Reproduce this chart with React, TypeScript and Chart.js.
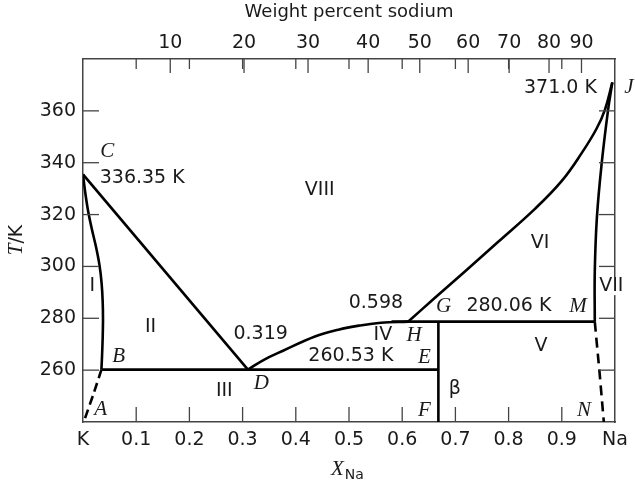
import React, { useEffect, useRef } from "react";
import { Chart, registerables } from "chart.js";

Chart.register(...registerables);

// ---------- axis data ----------
const moleFractionTicks = [0, 0.1, 0.2, 0.3, 0.4, 0.5, 0.6, 0.7, 0.8, 0.9, 1];
const moleFractionLabels = ["K", "0.1", "0.2", "0.3", "0.4", "0.5", "0.6", "0.7", "0.8", "0.9", "Na"];
const temperatureTicks = [260, 280, 300, 320, 340, 360];
const weightPercentTicks = [10, 20, 30, 40, 50, 60, 70, 80, 90];
// mole-fraction position of each weight-percent tick
const weightPercentAt = [0.164, 0.3027, 0.423, 0.536, 0.633, 0.724, 0.801, 0.876, 0.937];

// ---------- phase boundary data (x = X_Na, T in K) ----------
const liquidusCD_x = [0, 0.31];
const liquidusCD_T = [335.5, 260.2];

const liquidusDH_x = [0.31, 0.34, 0.376, 0.436, 0.48, 0.52, 0.56, 0.611];
const liquidusDH_T = [260.2, 264.0, 267.5, 273.0, 275.6, 277.2, 278.3, 278.7];

const liquidusHJ_x = [0.611, 0.66, 0.72, 0.78, 0.85, 0.9, 0.937, 0.965, 0.981, 0.995];
const liquidusHJ_T = [278.7, 287.6, 298.4, 309.4, 322.3, 333, 343.6, 353, 360.4, 371.0];

const solidusCB_x = [0, 0.0042, 0.0095, 0.0165, 0.0245, 0.031, 0.035, 0.037, 0.0376, 0.037, 0.0358, 0.0346];
const solidusCB_T = [335.5, 328.5, 321.5, 314.5, 307.5, 300.5, 293.5, 286.5, 279.5, 272.5, 265.5, 260.2];

const dashedBA_x = [0.0346, 0.02, 0.003];
const dashedBA_T = [260.2, 251, 241];

const solidusJM_x = [0.995, 0.987, 0.975, 0.966, 0.962, 0.962];
const solidusJM_T = [371.0, 360.4, 339.8, 319, 298, 278.7];

const dashedMN_x = [0.962, 0.971, 0.979];
const dashedMN_T = [278.7, 259, 240];

const eutecticBE_x = [0.0346, 0.668];
const eutecticBE_T = [260.2, 260.2];

const peritecticHM_x = [0.58, 0.962];
const peritecticHM_T = [278.7, 278.7];

const compoundEF_x = [0.668, 0.668];
const compoundEF_T = [278.7, 240];

// ---------- annotations ----------
type Annot = { text: string; x: number; t: number; italic?: boolean; align?: CanvasTextAlign; bg?: boolean };
const annotations: Annot[] = [
  { text: "C", x: 0.0455, t: 344.3, italic: true },
  { text: "336.35 K", x: 0.0314, t: 333.9, align: "left" },
  { text: "VIII", x: 0.445, t: 329.4 },
  { text: "371.0 K", x: 0.966, t: 368.9, align: "right" },
  { text: "J", x: 1.026, t: 368.9, italic: true },
  { text: "VI", x: 0.859, t: 309.1 },
  { text: "I", x: 0.0173, t: 292.4 },
  { text: "II", x: 0.127, t: 276.6 },
  { text: "VII", x: 0.993, t: 292.4, bg: true },
  { text: "0.598", x: 0.5505, t: 285.7 },
  { text: "G", x: 0.678, t: 284.7, italic: true },
  { text: "280.06 K", x: 0.8006, t: 284.9 },
  { text: "M", x: 0.9304, t: 284.7, italic: true },
  { text: "0.319", x: 0.334, t: 273.9 },
  { text: "IV", x: 0.5637, t: 273.5 },
  { text: "H", x: 0.6223, t: 273.5, italic: true },
  { text: "B", x: 0.0671, t: 265.3, italic: true },
  { text: "260.53 K", x: 0.5035, t: 265.3 },
  { text: "E", x: 0.6417, t: 265.0, italic: true },
  { text: "V", x: 0.861, t: 269.4 },
  { text: "III", x: 0.2656, t: 252.0 },
  { text: "D", x: 0.335, t: 254.9, italic: true },
  { text: "β", x: 0.699, t: 252.8 },
  { text: "A", x: 0.0333, t: 244.8, italic: true },
  { text: "F", x: 0.6417, t: 244.4, italic: true },
  { text: "N", x: 0.9417, t: 244.4, italic: true },
];

const SANS = '"DejaVu Sans"';
const SERIF = '"Liberation Serif"';
const FRAME = "#444";
const TEXT = "#1a1a1a";

const zip = (xs: number[], ts: number[]) => xs.map((x, i) => ({ x, y: ts[i] }));

const line = (xs: number[], ts: number[], opts: any = {}) => ({
  data: zip(xs, ts),
  showLine: true,
  borderColor: "#000",
  borderWidth: 2.6,
  pointRadius: 0,
  tension: 0,
  fill: false,
  ...opts,
});

const inwardTicks = {
  id: "inwardTicks",
  afterDraw(chart: any) {
    const { ctx, chartArea: a, scales } = chart;
    ctx.save();
    ctx.strokeStyle = FRAME;
    ctx.lineWidth = 1.3;
    const seg = (x1: number, y1: number, x2: number, y2: number) => {
      ctx.beginPath();
      ctx.moveTo(x1, y1);
      ctx.lineTo(x2, y2);
      ctx.stroke();
    };
    moleFractionTicks.slice(1, -1).forEach((v) => {
      const x = scales.x.getPixelForValue(v);
      seg(x, a.bottom, x, a.bottom - 15);
      seg(x, a.top, x, a.top + 10);
    });
    weightPercentAt.forEach((m) => {
      const x = scales.xTop.getPixelForValue(m);
      seg(x, a.top, x, a.top + 14);
    });
    temperatureTicks.forEach((t) => {
      const y = scales.y.getPixelForValue(t);
      seg(a.left, y, a.left + 16, y);
      seg(a.right, y, a.right - 16, y);
    });
    ctx.restore();
  },
};

const textPlugin = {
  id: "textPlugin",
  afterDraw(chart: any) {
    const { ctx, scales, chartArea: a } = chart;
    ctx.save();
    ctx.fillStyle = TEXT;
    ctx.textBaseline = "middle";
    for (const an of annotations) {
      const px = scales.x.getPixelForValue(an.x);
      const py = scales.y.getPixelForValue(an.t);
      ctx.font = an.italic ? `italic 21px ${SERIF}` : `19px ${SANS}`;
      ctx.textAlign = an.align || "center";
      if (an.bg) {
        const w = ctx.measureText(an.text).width;
        ctx.fillStyle = "#fff";
        ctx.fillRect(px - w / 2 - 1, py - 9, w + 2, 18);
        ctx.fillStyle = TEXT;
      }
      ctx.fillText(an.text, px, py);
    }
    // top title
    ctx.font = `18px ${SANS}`;
    ctx.textAlign = "center";
    ctx.fillText("Weight percent sodium", (a.left + a.right) / 2, 12);
    // x title: X_Na
    ctx.textAlign = "left";
    ctx.textBaseline = "alphabetic";
    ctx.font = `italic 21px ${SERIF}`;
    const xX = 331;
    ctx.fillText("X", xX, 475);
    const wX = ctx.measureText("X").width;
    ctx.font = `14px ${SANS}`;
    ctx.fillText("Na", xX + wX + 1, 479);
    // y title: T/K rotated
    ctx.save();
    ctx.translate(22, 240);
    ctx.rotate(-Math.PI / 2);
    ctx.font = `italic 21px ${SERIF}`;
    const wT = ctx.measureText("T").width;
    ctx.font = `19px ${SANS}`;
    const wK = ctx.measureText("/K").width;
    const start = -(wT + wK) / 2;
    ctx.font = `italic 21px ${SERIF}`;
    ctx.fillText("T", start, 0);
    ctx.font = `19px ${SANS}`;
    ctx.fillText("/K", start + wT, 0);
    ctx.restore();
    ctx.restore();
  },
};

export default function App() {
  const ref = useRef<HTMLCanvasElement | null>(null);
  useEffect(() => {
    if (!ref.current) return;
    const tickFont = { family: SANS, size: 19 };
    const chart = new Chart(ref.current, {
      type: "scatter",
      data: {
        datasets: [
          line(liquidusCD_x, liquidusCD_T),
          line(liquidusDH_x, liquidusDH_T, { tension: 0.4 }),
          line(liquidusHJ_x, liquidusHJ_T, { tension: 0.4 }),
          line(solidusCB_x, solidusCB_T, { tension: 0.3 }),
          line(dashedBA_x, dashedBA_T, { borderDash: [9, 5], tension: 0.3 }),
          line(solidusJM_x, solidusJM_T, { tension: 0.4 }),
          line(dashedMN_x, dashedMN_T, { borderDash: [10, 6] }),
          line(eutecticBE_x, eutecticBE_T),
          line(peritecticHM_x, peritecticHM_T),
          line(compoundEF_x, compoundEF_T),
        ] as any,
      },
      options: {
        animation: false,
        responsive: false,
        maintainAspectRatio: false,
        layout: { padding: 0 },
        plugins: { legend: { display: false }, tooltip: { enabled: false } },
        scales: {
          x: {
            type: "linear",
            position: "bottom",
            min: 0,
            max: 1,
            afterBuildTicks: (s: any) => {
              s.ticks = moleFractionTicks.map((v) => ({ value: v }));
            },
            ticks: {
              callback: (_v: any, i: number) => moleFractionLabels[i],
              font: tickFont,
              color: TEXT,
              padding: 7,
              maxRotation: 0,
              autoSkip: false,
            },
            grid: { display: false, drawTicks: false },
            border: { display: true, color: FRAME, width: 1.5 },
            afterFit: (s: any) => {
              s.height = 63;
            },
          },
          xTop: {
            type: "linear",
            position: "top",
            min: 0,
            max: 1,
            afterBuildTicks: (s: any) => {
              s.ticks = weightPercentAt.map((m) => ({ value: m }));
            },
            ticks: {
              callback: (_v: any, i: number) => String(weightPercentTicks[i]),
              font: tickFont,
              color: TEXT,
              padding: 5,
              maxRotation: 0,
              autoSkip: false,
            },
            grid: { display: false, drawTicks: false },
            border: { display: true, color: FRAME, width: 1.5 },
            afterFit: (s: any) => {
              s.height = 59;
            },
          },
          y: {
            type: "linear",
            position: "left",
            min: 240,
            max: 380,
            afterBuildTicks: (s: any) => {
              s.ticks = temperatureTicks.map((v) => ({ value: v }));
            },
            ticks: { font: tickFont, color: TEXT, padding: 7 },
            grid: { display: false, drawTicks: false },
            border: { display: true, color: FRAME, width: 1.5 },
            afterFit: (s: any) => {
              s.width = 83;
            },
          },
          yRight: {
            type: "linear",
            position: "right",
            min: 240,
            max: 380,
            ticks: { display: false },
            grid: { display: false, drawTicks: false },
            border: { display: true, color: FRAME, width: 1.5 },
            afterFit: (s: any) => {
              s.width = 20;
            },
          },
        },
      } as any,
      plugins: [inwardTicks, textPlugin],
    });
    return () => chart.destroy();
  }, []);
  return (
    <div style={{ position: "fixed", left: 0, top: 0, width: 635, height: 485, background: "#fff" }}>
      <canvas ref={ref} width={635} height={485} style={{ width: 635, height: 485 }} />
    </div>
  );
}
